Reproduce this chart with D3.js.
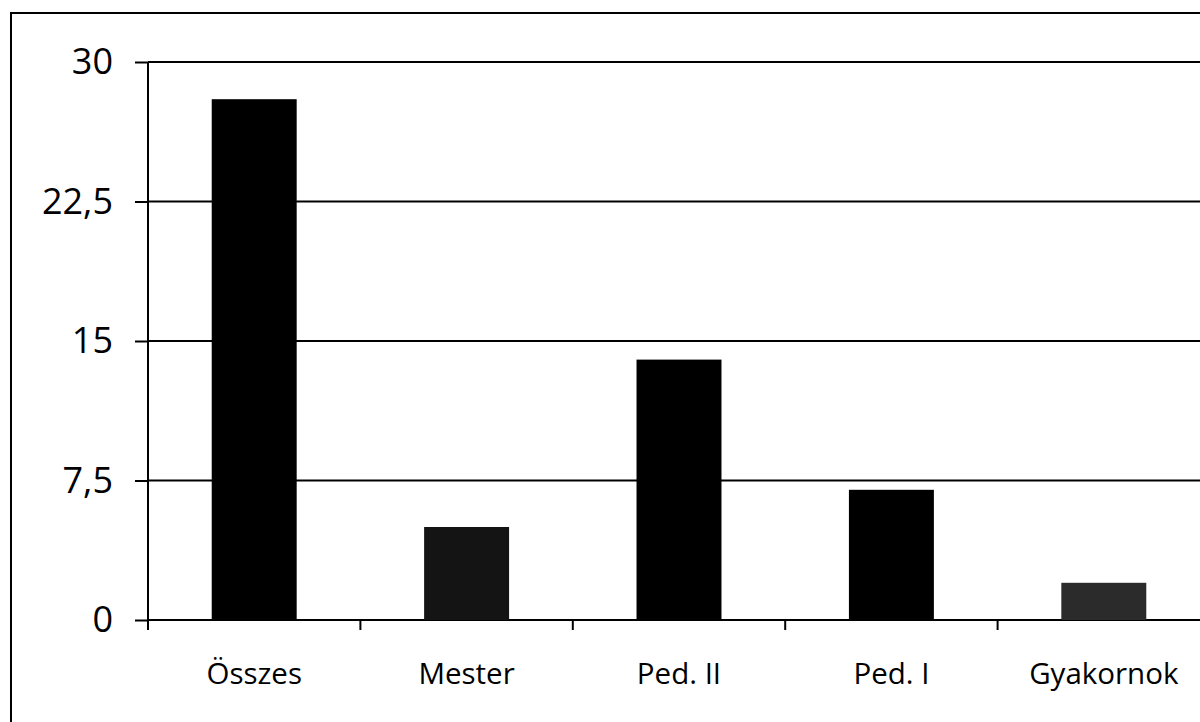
<!DOCTYPE html>
<html>
<head>
    <meta charset="utf-8" />
    <title>Összes / Mester / Ped. II / Ped. I / Gyakornok</title>
    <script src="https://d3js.org/d3.v7.min.js"></script>
    <style>
        body { margin: 0; background: #fff; }
        text { font-family: "Open Sans", sans-serif; fill: #000; }
    </style>
</head>
<body>
    <svg width="1200" height="722"></svg>

    <script>
        // adatok
        var categories = ["Összes", "Mester", "Ped. II", "Ped. I", "Gyakornok"];
        var values = [28, 5, 14, 7, 2];
        var barColors = ["#000", "#141414", "#000", "#000", "#2b2b2b"];
        var yTicks = [0, 7.5, 15, 22.5, 30];

        var svg = d3.select("svg");

        // keret (jobb és alsó része le van vágva)
        svg.append("path")
           .attr("d", "M11,722 V13 H1200")
           .attr("fill", "none")
           .attr("stroke", "#000")
           .attr("stroke-width", 2);

        var plotLeft = 148, plotRight = 1210, plotTop = 62, plotBottom = 620;

        var x = d3.scaleBand().domain(categories).range([plotLeft, plotRight]).paddingInner(0.6).paddingOuter(0.3);
        var y = d3.scaleLinear().domain([0, 30]).range([plotBottom, plotTop]);

        // y tengely feliratok + osztásjelek
        var yAxis = svg.append("g")
           .attr("transform", "translate(" + plotLeft + ",0)")
           .call(d3.axisLeft(y).tickValues(yTicks).tickSize(13).tickPadding(22)
                 .tickFormat(function (d) { return String(d).replace(".", ","); }));
        yAxis.select(".domain").remove();
        yAxis.selectAll("line").attr("stroke", "#000").attr("stroke-width", 2);
        yAxis.selectAll("text").attr("font-size", 36);

        // rácsvonalak
        svg.append("g").selectAll("line")
           .data(yTicks)
           .enter().append("line")
           .attr("x1", plotLeft).attr("x2", 1200)
           .attr("y1", function (d) { return y(d); })
           .attr("y2", function (d) { return y(d); })
           .attr("stroke", "#000")
           .attr("stroke-width", 2);

        svg.append("line")
           .attr("x1", plotLeft).attr("x2", plotLeft)
           .attr("y1", plotTop).attr("y2", plotBottom + 10)
           .attr("stroke", "#000").attr("stroke-width", 2);

        // oszlopok
        svg.append("g").selectAll("rect")
           .data(values)
           .enter().append("rect")
           .attr("x", function (d, i) { return x(categories[i]); })
           .attr("y", function (d) { return y(d); })
           .attr("width", x.bandwidth())
           .attr("height", function (d) { return plotBottom - y(d); })
           .attr("fill", function (d, i) { return barColors[i]; });

        // x tengely: osztásjelek a kategóriák között
        var step = x.step();
        svg.append("g").selectAll("line")
           .data(d3.range(categories.length + 1))
           .enter().append("line")
           .attr("x1", function (i) { return plotLeft + i * step; })
           .attr("x2", function (i) { return plotLeft + i * step; })
           .attr("y1", plotBottom).attr("y2", plotBottom + 10)
           .attr("stroke", "#000").attr("stroke-width", 2);

        svg.append("g").selectAll("text")
           .data(categories)
           .enter().append("text")
           .attr("x", function (d) { return x(d) + x.bandwidth() / 2; })
           .attr("y", 684)
           .attr("text-anchor", "middle")
           .attr("font-size", 29.5)
           .text(function (d) { return d; });
    </script>
</body>
</html>
